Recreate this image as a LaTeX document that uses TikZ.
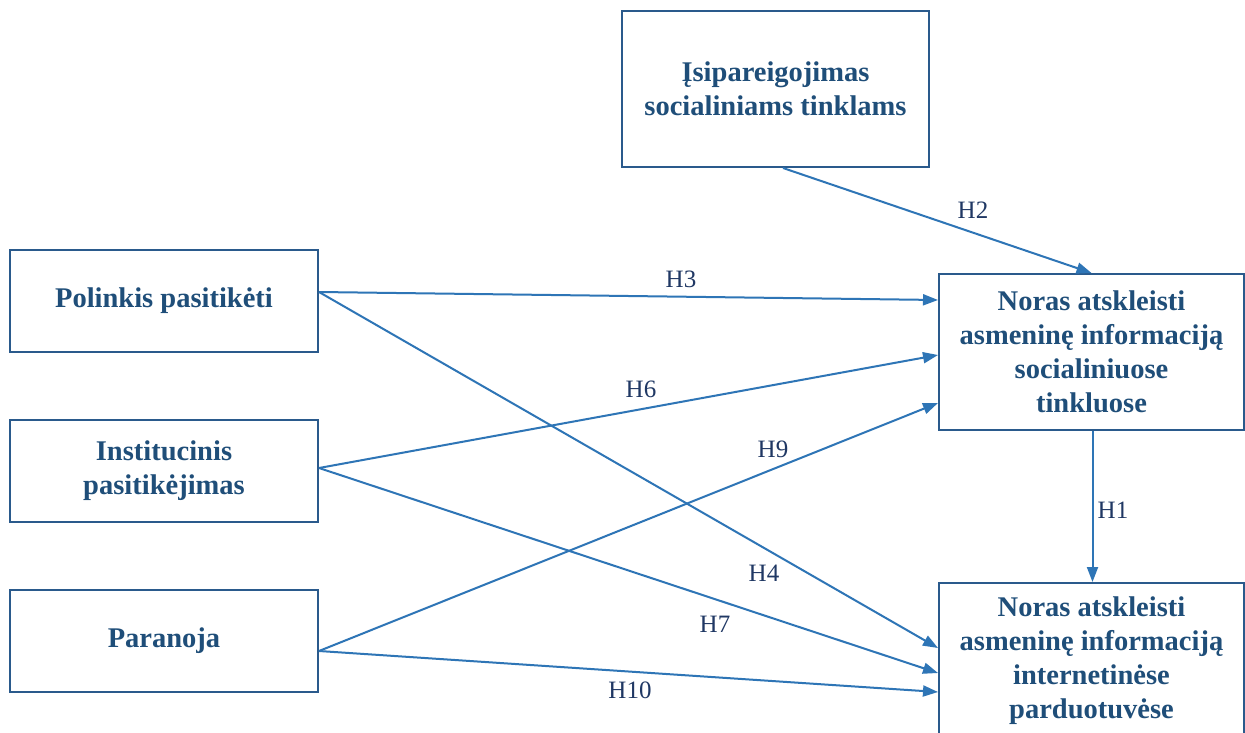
\documentclass[tikz,border=0pt]{standalone}
\usepackage{fontspec}
\setmainfont{Liberation Serif}
\usetikzlibrary{arrows.meta}
\definecolor{boxtext}{HTML}{1F4E79}
\definecolor{boxline}{HTML}{2A5A8C}
\definecolor{arrowc}{HTML}{2E75B6}
\definecolor{labc}{HTML}{203864}
\begin{document}
\begin{tikzpicture}[x=1pt,y=-1pt,
  varbox/.style={draw=boxline, line width=2pt, fill=white, align=center,
    text=boxtext, font=\bfseries\fontsize{28.5}{34}\selectfont, inner sep=0pt},
  leftbox/.style={varbox, minimum width=308pt, minimum height=102pt},
  rightbox/.style={varbox, minimum width=305pt, minimum height=156pt},
  hyp/.style={draw=arrowc, line width=2pt, -{Triangle[length=15pt,width=11pt]}},
  hlab/.style={text=labc, font=\fontsize{25}{30}\selectfont, inner sep=0pt}]
\useasboundingbox (0,0) rectangle (1245,733);
\fill[white] (0,0) rectangle (1245,733);

\node[varbox, minimum width=307pt, minimum height=156pt] (com) at (775.5,89) {Įsipareigojimas\\socialiniams tinklams};
\node[leftbox] (pol) at (164,301) {Polinkis pasitikėti};
\node[leftbox] (ins) at (164,471) {Institucinis\\pasitikėjimas};
\node[leftbox] (par) at (164,641) {Paranoja};
\node[rightbox] (soc) at (1091.5,352) {Noras atskleisti\\asmeninę informaciją\\socialiniuose\\tinkluose};
\node[rightbox] (shop) at (1091.5,661) {Noras atskleisti\\asmeninę informaciją\\internetinėse\\parduotuvėse};

\draw[hyp] ([xshift=7.5pt]com.south) -- (soc.north);
\draw[hyp] ([yshift=9pt]pol.east) -- ([yshift=52pt]soc.west);
\draw[hyp] ([yshift=9pt]pol.east) -- ([yshift=13pt]shop.west);
\draw[hyp] ([yshift=3pt]ins.east) -- ([yshift=-3pt]soc.west);
\draw[hyp] ([yshift=3pt]ins.east) -- ([yshift=-12pt]shop.west);
\draw[hyp] ([yshift=-10pt]par.east) -- ([yshift=-51pt]soc.west);
\draw[hyp] ([yshift=-10pt]par.east) -- ([yshift=-31pt]shop.west);
\draw[hyp] ([xshift=1pt]soc.south) -- ([xshift=1pt]shop.north);

\node[hlab] (l2) at (973,210) {H2};
\node[hlab] (l3) at (681,279) {H3};
\node[hlab] (l6) at (641,389) {H6};
\node[hlab] (l9) at (773,449) {H9};
\node[hlab] (l1) at (1113,510) {H1};
\node[hlab] (l4) at (764,573) {H4};
\node[hlab] (l7) at (715,624) {H7};
\node[hlab] (l10) at (630,690) {H10};
\end{tikzpicture}
\end{document}
